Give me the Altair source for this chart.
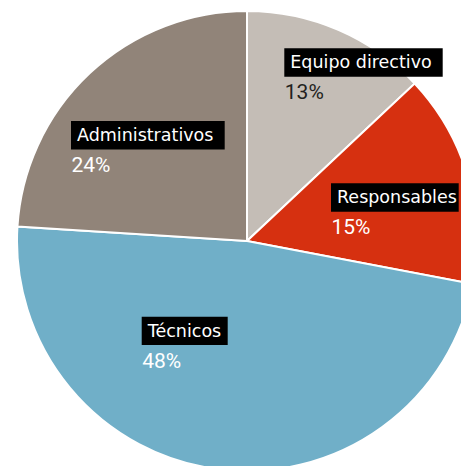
import altair as alt
import pandas as pd

# data
categories = ["Equipo directivo", "Responsables", "Técnicos", "Administrativos"]
values = [13, 15, 48, 24]
pct_labels = ["13%", "15%", "48%", "24%"]
colors = ["#c4bdb6", "#d63010", "#70afc8", "#918479"]
pct_colors = ["#231f20", "#ffffff", "#ffffff", "#ffffff"]

# layout of annotation boxes (view pixels): left, top, width
box_left = [276.3, 323, 133.7, 63]
box_top = [40.3, 175.3, 308.7, 113]
box_width = [158.4, 127.7, 86, 153.7]
BOX_H = 28.4

W, H = 453, 458
CX, CY, R = 239, 233, 230

df = pd.DataFrame({
    "cat": categories,
    "value": values,
    "order": list(range(len(categories))),
})

lab = pd.DataFrame({
    "cat": categories,
    "pct": pct_labels,
    "pcol": pct_colors,
    "x0": box_left,
    "y0": box_top,
    "x1": [l + w for l, w in zip(box_left, box_width)],
    "y1": [t + BOX_H for t in box_top],
    "tx": [l + 6 for l in box_left],
    "ty": [t + 20 for t in box_top],
    "px": [l + 0.5 for l in box_left],
    "py": [t + 51 for t in box_top],
})

pie = alt.Chart(df).mark_arc(outerRadius=R, stroke="white", strokeWidth=2, clip=True).encode(
    theta=alt.Theta("value:Q", stack=True),
    order=alt.Order("order:Q"),
    color=alt.Color("cat:N", scale=alt.Scale(domain=categories, range=colors), legend=None),
    x=alt.value(CX),
    y=alt.value(CY),
)

boxes = alt.Chart(lab).mark_rect(color="black").encode(
    x=alt.X("x0:Q", scale=None, axis=None),
    x2="x1:Q",
    y=alt.Y("y0:Q", scale=None, axis=None),
    y2="y1:Q",
)

names = alt.Chart(lab).mark_text(
    align="left", baseline="alphabetic", color="white", font="DejaVu Sans", fontSize=17.5
).encode(
    x=alt.X("tx:Q", scale=None),
    y=alt.Y("ty:Q", scale=None),
    text="cat:N",
)

pcts = alt.Chart(lab).mark_text(
    align="left", baseline="alphabetic", font="Roboto", fontSize=21
).encode(
    x=alt.X("px:Q", scale=None),
    y=alt.Y("py:Q", scale=None),
    text="pct:N",
    color=alt.Color("pcol:N", scale=None),
)

chart = alt.layer(pie, boxes, names, pcts).properties(
    width=W, height=H,
    autosize=alt.AutoSizeParams(type="none"),
    padding=0,
).configure_view(stroke=None)

chart.save("out.html", embed_options={"renderer": "svg", "actions": False})
